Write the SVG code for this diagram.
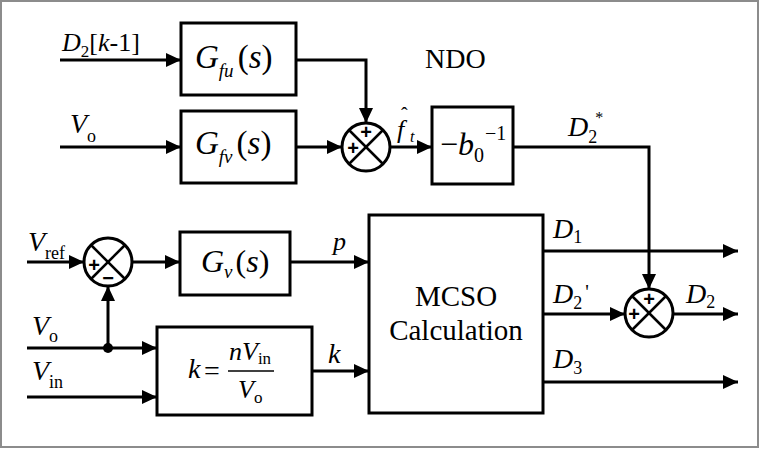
<svg xmlns="http://www.w3.org/2000/svg" width="760" height="450" viewBox="0 0 760 450" font-family="'Liberation Serif', 'Times New Roman', 'DejaVu Serif', serif">
<defs>
<marker id="ah" markerUnits="userSpaceOnUse" markerWidth="16" markerHeight="14" refX="15" refY="7" orient="auto">
<path d="M0,0 L15,7 L0,14 Z" fill="#000"/>
</marker>
<style>
.box{fill:#fff;stroke:#000;stroke-width:3}
.ar{fill:none;stroke:#000;stroke-width:3;marker-end:url(#ah)}
.sum{fill:#fff;stroke:#000;stroke-width:3}
.x{stroke:#000;stroke-width:2.5}
.t{font-family:'Liberation Serif','Times New Roman','DejaVu Serif',serif;fill:#000}
.i{font-style:italic}
.pm{font-family:'Liberation Sans',Arial,sans-serif;font-weight:bold;font-size:20px;fill:#000;text-anchor:middle}
</style>
</defs>
<rect x="1" y="1" width="757" height="446" fill="#fff" stroke="#8c8c8c" stroke-width="2"/>

<g id="connectors">
<path class="ar" d="M60,60 H181"/>
<path class="ar" d="M296,60 H366 V123"/>
<path class="ar" d="M60,147 H181"/>
<path class="ar" d="M296,147 H342"/>
<path class="ar" d="M390,147 H432"/>
<path class="ar" d="M513,147 H649 V289"/>
<path class="ar" d="M27,262 H84"/>
<path class="ar" d="M132,262 H180"/>
<path class="ar" d="M290,262 H369"/>
<path class="ar" d="M27,348 H157"/>
<path class="ar" d="M108,348 V286"/>
<circle cx="108" cy="348" r="5" fill="#000"/>
<path class="ar" d="M27,397 H157"/>
<path class="ar" d="M312,371 H369"/>
<path class="ar" d="M543,251 H738"/>
<path class="ar" d="M543,314 H625"/>
<path class="ar" d="M673,314 H738"/>
<path class="ar" d="M543,382 H738"/>
</g>

<g id="labels">
<text class="t" font-size="26" y="51"><tspan class="i" x="62">D</tspan><tspan font-size="17" dy="6">2</tspan><tspan dy="-6">[</tspan><tspan class="i">k</tspan><tspan>-1]</tspan></text>
<text class="t" font-size="28" y="133"><tspan class="i" x="70">V</tspan><tspan font-size="18" dy="9">o</tspan></text>
<text class="t" font-size="28" x="425" y="68">NDO</text>
<text class="t i" font-size="26" x="397" y="138">f</text>
<text class="t" font-size="20" x="401" y="122">ˆ</text>
<text class="t i" font-size="16" x="410" y="142">t</text>
<text class="t" font-size="28" y="136"><tspan class="i" x="568">D</tspan><tspan font-size="18" dy="7">2</tspan><tspan font-size="16" dx="-2" dy="-20">*</tspan></text>
<text class="t" font-size="28" y="251"><tspan class="i" x="28">V</tspan><tspan font-size="18" dy="8">ref</tspan></text>
<text class="t" font-size="28" y="335"><tspan class="i" x="32">V</tspan><tspan font-size="18" dy="7">o</tspan></text>
<text class="t" font-size="28" y="380"><tspan class="i" x="32">V</tspan><tspan font-size="18" dy="8">in</tspan></text>
<text class="t i" font-size="26" x="333" y="250">p</text>
<text class="t i" font-size="28" x="328" y="363">k</text>
<text class="t" font-size="28" y="238"><tspan class="i" x="553">D</tspan><tspan font-size="18" dy="5">1</tspan></text>
<text class="t" font-size="28" y="303"><tspan class="i" x="553">D</tspan><tspan font-size="18" dy="6">2</tspan><tspan font-size="20" dx="3" dy="-10">'</tspan></text>
<text class="t" font-size="28" y="303"><tspan class="i" x="686">D</tspan><tspan font-size="18" dy="5">2</tspan></text>
<text class="t" font-size="28" y="368"><tspan class="i" x="553">D</tspan><tspan font-size="18" dy="6">3</tspan></text>
</g>

<g id="Gfu">
<rect class="box" x="181" y="23" width="115" height="72"/>
<text class="t" font-size="33" y="68"><tspan class="i" x="195">G</tspan><tspan class="i" font-size="19" dy="9">fu</tspan><tspan dx="4" dy="-9">(</tspan><tspan class="i">s</tspan><tspan>)</tspan></text>
</g>

<g id="Gfv">
<rect class="box" x="181" y="111" width="115" height="72"/>
<text class="t" font-size="33" y="154"><tspan class="i" x="195">G</tspan><tspan class="i" font-size="19" dy="9">fv</tspan><tspan dx="4" dy="-9">(</tspan><tspan class="i">s</tspan><tspan>)</tspan></text>
</g>

<g id="sum1">
<circle class="sum" cx="366" cy="147" r="24"/>
<line class="x" x1="349" y1="130" x2="383" y2="164"/>
<line class="x" x1="383" y1="130" x2="349" y2="164"/>
<text class="pm" x="366" y="139">+</text>
<text class="pm" x="353" y="155">+</text>
</g>

<g id="b0inv">
<rect class="box" x="432" y="107" width="81" height="77"/>
<text class="t" font-size="32" y="155"><tspan x="440">−</tspan><tspan class="i">b</tspan><tspan font-size="20" dy="7">0</tspan><tspan font-size="20" dx="1" dy="-22">−1</tspan></text>
</g>

<g id="sum3">
<circle class="sum" cx="108" cy="262" r="24"/>
<line class="x" x1="91" y1="245" x2="125" y2="279"/>
<line class="x" x1="125" y1="245" x2="91" y2="279"/>
<text class="pm" x="94" y="272">+</text>
<text class="pm" x="108" y="285">−</text>
</g>

<g id="Gv">
<rect class="box" x="180" y="232" width="110" height="63"/>
<text class="t" font-size="32" y="272"><tspan class="i" x="201">G</tspan><tspan class="i" font-size="19" dy="6">v</tspan><tspan dx="3" dy="-6">(</tspan><tspan class="i">s</tspan><tspan>)</tspan></text>
</g>

<g id="kcalc">
<rect class="box" x="157" y="327" width="155" height="88"/>
<text class="t i" font-size="28" x="188" y="378">k</text>
<text class="t" font-size="28" x="204" y="380">=</text>
<line x1="228" y1="371" x2="274" y2="371" stroke="#000" stroke-width="1.5"/>
<text class="t" font-size="26" y="360"><tspan class="i" x="229">n</tspan><tspan class="i">V</tspan><tspan font-size="17" dy="4">in</tspan></text>
<text class="t" font-size="26" y="398"><tspan class="i" x="238">V</tspan><tspan font-size="17" dy="5">o</tspan></text>
</g>

<g id="mcso">
<rect class="box" x="369" y="215" width="174" height="198"/>
<text class="t" font-size="29" x="456" y="306" text-anchor="middle">MCSO</text>
<text class="t" font-size="29" x="456" y="340" text-anchor="middle">Calculation</text>
</g>

<g id="sum2">
<circle class="sum" cx="649" cy="313" r="24"/>
<line class="x" x1="632" y1="296" x2="666" y2="330"/>
<line class="x" x1="666" y1="296" x2="632" y2="330"/>
<text class="pm" x="649" y="306">+</text>
<text class="pm" x="634" y="321">+</text>
</g>
</svg>
